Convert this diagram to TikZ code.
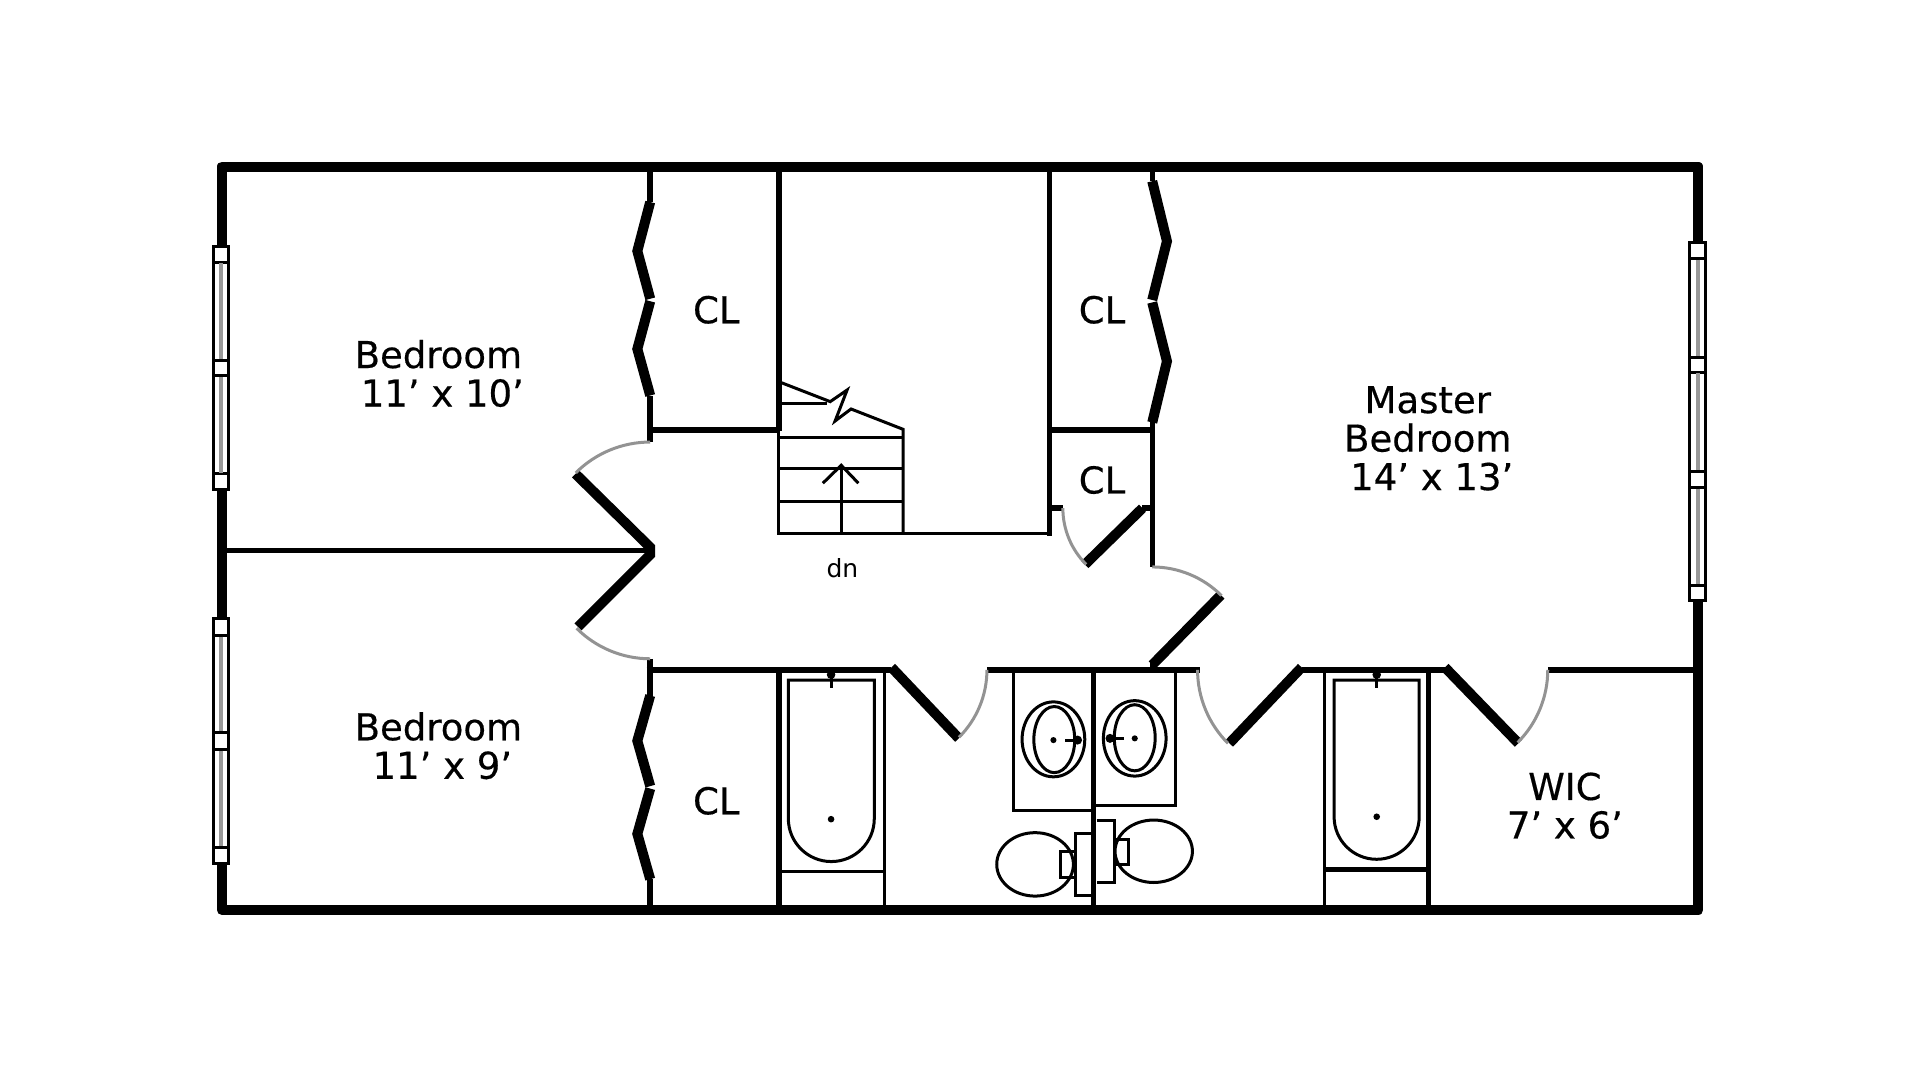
\documentclass[tikz,border=0pt]{standalone}
\usepackage{fontspec}
\setmainfont{DejaVu Sans}
\newfontfamily\labelfont[FakeBold=0.4]{DejaVu Sans}
\tikzset{
    wall/.style={line width=10pt,line join=round},
    partition/.style={line width=5.5pt},
    thinline/.style={line width=3pt},
    doorleaf/.style={line width=10pt},
    doorarc/.style={line width=3pt,gray!85},
    glass/.style={line width=3.5pt,gray!80},
    roomlabel/.style={align=center,font=\labelfont\fontsize{37}{38.5}\selectfont,inner sep=0pt},
}
\begin{document}
\begin{tikzpicture}[x=1.22449pt,y=-1.22449pt]
    \useasboundingbox (0,0) rectangle (1568,882);

    % Outer walls
    \draw[wall] (181,136) rectangle (1387,743);

    % Left windows
    \draw[thinline,fill=white] (174,201) rectangle (187,400);
    \draw[thinline,fill=white] (174,505) rectangle (187,705);
    \draw[thinline] (174,214) -- (187,214) (174,294) -- (187,294) (174,307) -- (187,307) (174,387) -- (187,387);
    \draw[thinline] (174,519) -- (187,519) (174,598) -- (187,598) (174,612) -- (187,612) (174,692) -- (187,692);
    \draw[glass] (180.5,215) -- (180.5,293) (180.5,308) -- (180.5,386);
    \draw[glass] (180.5,520) -- (180.5,597) (180.5,613) -- (180.5,691);

    % Right window
    \draw[thinline,fill=white] (1380,198) rectangle (1393,490);
    \draw[thinline] (1380,211) -- (1393,211) (1380,292) -- (1393,292) (1380,304) -- (1393,304);
    \draw[thinline] (1380,385) -- (1393,385) (1380,398) -- (1393,398) (1380,478) -- (1393,478);
    \draw[glass] (1386.5,212) -- (1386.5,291) (1386.5,305) -- (1386.5,384) (1386.5,399) -- (1386.5,477);

    % Partitions
    \draw[partition] (531,136) -- (531,165);
    \draw[partition] (531,323) -- (531,361);
    \draw[partition] (531,351) -- (636,351);
    \draw[partition] (636,136) -- (636,352);
    \draw[partition] (857,136) -- (857,438);
    \draw[partition] (857,351) -- (941,351);
    \draw[partition] (941,136) -- (941,148);
    \draw[partition] (941,345) -- (941,463);
    \draw[partition] (181,449.5) -- (531,449.5);
    \draw[partition] (531,538) -- (531,568);
    \draw[partition] (531,718) -- (531,743);
    \draw[partition] (528,547) -- (728,547);
    \draw[partition] (806,547) -- (980,547);
    \draw[partition] (1063,547) -- (1180,547);
    \draw[partition] (1264,547) -- (1387,547);
    \draw[partition] (636,547) -- (636,743);
    \draw[partition] (893,547) -- (893,743);
    \draw[partition] (1166.5,547) -- (1166.5,743);
    \draw[partition] (857,415) -- (868,415);
    \draw[partition] (933,415) -- (941,415);
    \draw[partition] (941,541) -- (941,547);
    \draw[thinline] (722,547) -- (722,743);
    \draw[thinline] (1081.5,547) -- (1081.5,743);

    % Folding doors
    \draw[doorleaf] (531,165) -- (520.5,205) -- (531,244);
    \draw[doorleaf] (531,246) -- (520.5,285) -- (531,323);
    \draw[doorleaf] (531,568) -- (520.5,605) -- (531,642);
    \draw[doorleaf] (531,644) -- (520.5,681) -- (531,718);
    \draw[doorleaf] (941,148) -- (953,197) -- (941,245);
    \draw[doorleaf] (941,247) -- (953,295) -- (941,345);

    % Swing doors
    \draw[doorleaf] (470,387) -- (531,447) -- (531,453) -- (472,512);
    \draw[doorleaf] (728,545) -- (783,603);
    \draw[doorleaf] (1063,545) -- (1004,607);
    \draw[doorleaf] (1180,545) -- (1240,607);
    \draw[doorleaf] (997,486) -- (941,543);
    \draw[doorleaf] (886,461) -- (933,415);
    \draw[doorarc] (531,361) arc[start angle=-90,end angle=-135,radius=86];
    \draw[doorarc] (531,538) arc[start angle=90,end angle=135,radius=85];
    \draw[doorarc] (806,547) arc[start angle=0,end angle=45,radius=78];
    \draw[doorarc] (978,547) arc[start angle=180,end angle=135,radius=85];
    \draw[doorarc] (1264,547) arc[start angle=0,end angle=45,radius=84];
    \draw[doorarc] (941,463) arc[start angle=-90,end angle=-45,radius=80];
    \draw[doorarc] (868,415) arc[start angle=180,end angle=135,radius=65];

    % Stairs
    \draw[thinline] (636,357) -- (737,357) (636,383) -- (737,383) (636,409.5) -- (737,409.5);
    \draw[thinline] (636,329.5) -- (675,329.5);
    \draw[thinline] (636,311.7) -- (678,328) -- (691.8,318.5) -- (682,343.8) -- (695,334) -- (737.5,350.6) -- (737.5,436);
    \draw[thinline] (636,352) -- (636,436) -- (857,436);
    \draw[thinline] (687,436) -- (687,381);
    \draw[thinline] (672,394.6) -- (687,380) -- (701,394.6);

    % Left bath tub
    \draw[thinline] (636,711.5) -- (722,711.5);
    \draw[thinline] (643.8,555.4) -- (714,555.4) -- (714,668.5) arc[start angle=0,end angle=180,radius=35.1] -- cycle;
    \fill (678.7,551) circle (3.5);
    \draw[thinline] (678.7,551) -- (678.7,562);
    \fill (678.7,669) circle (2.7);

    % Right bath tub
    \draw[partition] (1081.5,710) -- (1166.5,710);
    \draw[thinline] (1089.5,555.4) -- (1159,555.4) -- (1159,667) arc[start angle=0,end angle=180,radius=34.75] -- cycle;
    \fill (1124.3,551) circle (3.5);
    \draw[thinline] (1124.3,551) -- (1124.3,562);
    \fill (1124.3,667) circle (2.7);

    % Sinks
    \draw[thinline] (893,661.5) -- (827.6,661.5) -- (827.6,547);
    \draw[thinline] (893,658) -- (960,658) -- (960,547);
    \draw[thinline] (860.3,603.8) ellipse (25.6 and 30.6);
    \draw[thinline] (861,604) ellipse (16.7 and 27);
    \fill (860.3,604.4) circle (2.5);
    \draw[thinline] (870,604.4) -- (880,604.4);
    \fill (880,604.4) circle (3.7);
    \draw[thinline] (926.7,603) ellipse (25.6 and 30.8);
    \draw[thinline] (926.7,602.5) ellipse (16.7 and 27);
    \fill (926.7,603) circle (2.5);
    \draw[thinline] (918,603) -- (906.5,603);
    \fill (906.5,603) circle (3.7);

    % Toilets
    \draw[thinline] (891.6,680.6) -- (878,680.6) -- (878,731.5) -- (891.6,731.5);
    \draw[thinline] (845.3,705.9) ellipse (31.3 and 25.9);
    \draw[thinline] (878,695.6) -- (865.7,695.6) -- (865.7,716.5) -- (878,716.5);
    \draw[thinline] (895.6,670.2) -- (909.8,670.2) -- (909.8,720.9) -- (895.6,720.9);
    \draw[thinline] (942.2,695.2) ellipse (31.6 and 25.5);
    \draw[thinline] (910,685.2) -- (921.5,685.2) -- (921.5,705.6) -- (910,705.6);

    % Labels
    \node[roomlabel] (bedroomtop) at (358,305) {Bedroom\\\hspace*{8pt}11’ x 10’};
    \node[roomlabel] (bedroombottom) at (358,609) {Bedroom\\\hspace*{8pt}11’ x 9’};
    \node[roomlabel] (clleft) at (585,253) {CL};
    \node[roomlabel] (clright) at (900,253) {CL};
    \node[roomlabel] (clsmall) at (900,392) {CL};
    \node[roomlabel] (clbottom) at (585,654) {CL};
    \node[roomlabel] (master) at (1166,358) {Master\\Bedroom\\\hspace*{8pt}14’ x 13’};
    \node[roomlabel] (wic) at (1278,658) {WIC\\7’ x 6’};
    \node[font=\fontsize{25}{25}\selectfont,inner sep=0pt] (dn) at (688,464) {dn};
\end{tikzpicture}
\end{document}
